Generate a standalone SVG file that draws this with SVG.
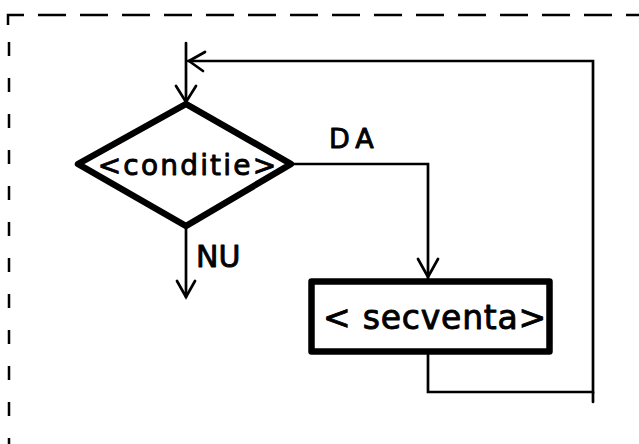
<svg xmlns="http://www.w3.org/2000/svg" width="639" height="444" viewBox="0 0 639 444">
  <style>
    .frame { fill: none; stroke: #000; stroke-width: 2.5; }
    .line { fill: none; stroke: #000; stroke-width: 2.7; stroke-linecap: round; stroke-linejoin: miter; }
    .shape { fill: #fff; stroke: #000; stroke-width: 6.5; stroke-linejoin: round; }
    .label { font-family: "DejaVu Sans", "Liberation Sans", sans-serif; fill: #000; stroke: #000; stroke-width: 0.9; stroke-linejoin: round; }
  </style>
  <rect width="639" height="444" fill="#fff"/>

  <!-- dashed outer frame -->
  <g id="frame">
    <path class="frame" d="M8 25 V15 H24"/>
    <path class="frame" d="M38 15 H639" stroke-dasharray="28 14"/>
    <path class="frame" d="M9 42 V444" stroke-dasharray="14 22"/>
  </g>

  <!-- connectors -->
  <g id="connectors">
    <!-- entry into the condition -->
    <path class="line" d="M186 43 V104"/>
    <path class="line" d="M176 86 L186 102 L196 86"/>
    <!-- loop back from the sequence -->
    <path class="line" d="M428 352 V392 H593 V61 H188"/>
    <path class="line" d="M593 392 V402"/>
    <path class="line" d="M205 52 L189 61 L203 71"/>
    <!-- DA branch -->
    <path class="line" d="M291 164 H428 V279"/>
    <path class="line" d="M418 259 L428 277 L438 259"/>
    <!-- NU branch -->
    <path class="line" d="M186 226 V297"/>
    <path class="line" d="M177 281 L186 297 L195 281"/>
  </g>

  <g id="condition">
    <polygon class="shape" points="186,104 291,164 186,226 78,164"/>
    <text class="label" x="188" y="175" font-size="28" letter-spacing="2.2" text-anchor="middle">&lt;conditie&gt;</text>
  </g>

  <g id="sequence">
    <rect class="shape" x="311.5" y="281.5" width="238" height="70"/>
    <text class="label" x="435" y="329" font-size="33" letter-spacing="0.8" text-anchor="middle">&lt; secventa&gt;</text>
  </g>

  <g id="labels">
    <text class="label" x="329" y="148" font-size="27" letter-spacing="6">DA</text>
    <text class="label" x="196" y="267" font-size="30">NU</text>
  </g>
</svg>
